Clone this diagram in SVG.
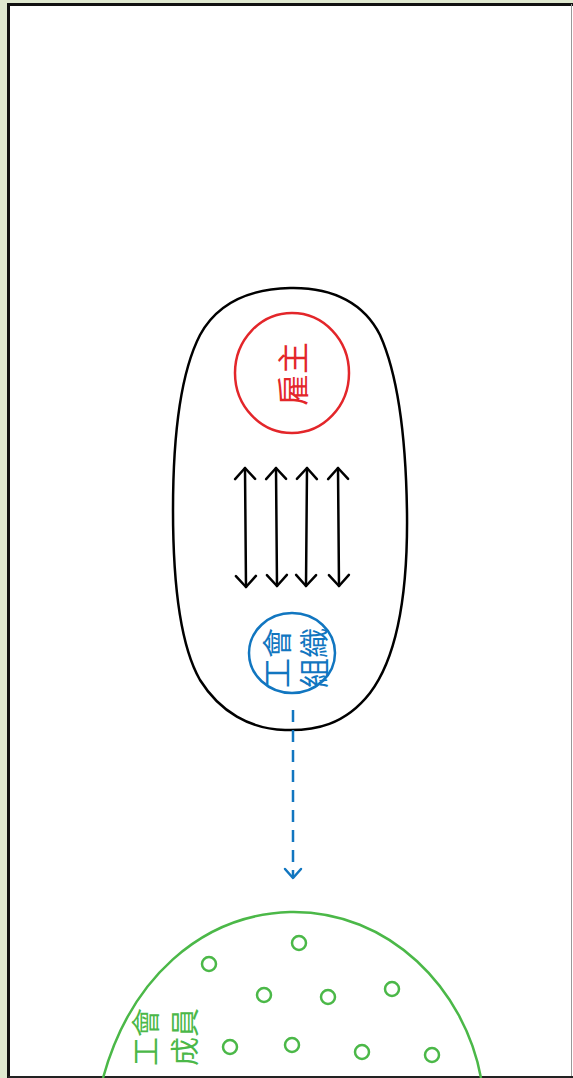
<svg xmlns="http://www.w3.org/2000/svg" width="573" height="1078" viewBox="0 0 573 1078">
<style>
.cjk{font-family:"Noto Sans CJK TC","Noto Sans CJK SC",sans-serif;text-anchor:middle}
.blk{fill:none;stroke:#000;stroke-width:2.5;stroke-linecap:round}
.grn{fill:none;stroke:#4bb848;stroke-width:2.5}
</style>
<defs>
<marker id="vb" markerUnits="userSpaceOnUse" viewBox="0 0 26 26" markerWidth="26" markerHeight="26" refX="13" refY="13" orient="auto-start-reverse">
<path d="M2,3 L13,13 L2,23" fill="none" stroke="#000" stroke-width="2.5" stroke-linecap="round" stroke-linejoin="round"/>
</marker>
<marker id="vbl" markerUnits="userSpaceOnUse" viewBox="0 0 22 22" markerWidth="22" markerHeight="22" refX="11" refY="11" orient="auto">
<path d="M2,3 L11,11 L2,19" fill="none" stroke="#1176c0" stroke-width="2.5" stroke-linecap="round" stroke-linejoin="round"/>
</marker>
</defs>
<rect width="573" height="1078" fill="#dfe8cf"/>
<rect x="8" y="4" width="565" height="1074" fill="#fff"/>
<line x1="8.5" y1="3" x2="8.5" y2="1078" stroke="#111" stroke-width="3"/>
<line x1="7" y1="4.5" x2="573" y2="4.5" stroke="#111" stroke-width="3"/>
<line x1="571.5" y1="4" x2="571.5" y2="1078" stroke="#999" stroke-width="1"/>
<line x1="8" y1="1077" x2="573" y2="1077" stroke="#222" stroke-width="2"/>

<g id="container">
<path class="blk" d="M290,288 C335,287 365,305 380,335 C398,375 406,440 407,513 C408,600 395,660 370,693 C345,725 315,731 285,730 C250,729 220,712 200,680 C180,645 173,580 173,510 C173,430 182,370 200,335 C218,302 250,289 290,288 Z"/>
</g>
<g id="employer">
<ellipse cx="292" cy="373" rx="57" ry="60" fill="none" stroke="#e3262a" stroke-width="2.5"/>
<text class="cjk" transform="translate(293,374) rotate(-90)" y="12" font-size="32" fill="#e3262a">雇主</text>
</g>
<g id="union">
<ellipse cx="292" cy="653" rx="43" ry="40" fill="none" stroke="#1176c0" stroke-width="2.5"/>
<text class="cjk" transform="translate(295,658) rotate(-90)" font-size="30" fill="#1176c0"><tspan x="0" y="-7">工會</tspan><tspan x="0" y="30">組織</tspan></text>
</g>
<g id="members">
<path class="grn" d="M103,1078 C130,980 200,915 290,912 C390,910 465,990 481,1078"/>
<text class="cjk" transform="translate(167,1037) rotate(-90)" font-size="29" fill="#4bb848"><tspan x="0" y="-10">工會</tspan><tspan x="0" y="29">成員</tspan></text>
<g class="grn">
<circle cx="299" cy="943" r="7"/>
<circle cx="209" cy="964" r="7"/>
<circle cx="264" cy="995" r="7"/>
<circle cx="328" cy="997" r="7"/>
<circle cx="392" cy="989" r="7"/>
<circle cx="230" cy="1047" r="7"/>
<circle cx="292" cy="1045" r="7"/>
<circle cx="362" cy="1052" r="7"/>
<circle cx="432" cy="1055" r="7"/>
</g>
</g>
<g id="connectors">
<path class="blk" d="M245,468 L246,587" marker-start="url(#vb)" marker-end="url(#vb)"/>
<path class="blk" d="M276,468 L277,586" marker-start="url(#vb)" marker-end="url(#vb)"/>
<path class="blk" d="M307,468 L306,586" marker-start="url(#vb)" marker-end="url(#vb)"/>
<path class="blk" d="M338,468 L339,586" marker-start="url(#vb)" marker-end="url(#vb)"/>
<path d="M293,710 L293,878" fill="none" stroke="#1176c0" stroke-width="2.5" stroke-dasharray="12,8" marker-end="url(#vbl)"/>
</g>
</svg>
